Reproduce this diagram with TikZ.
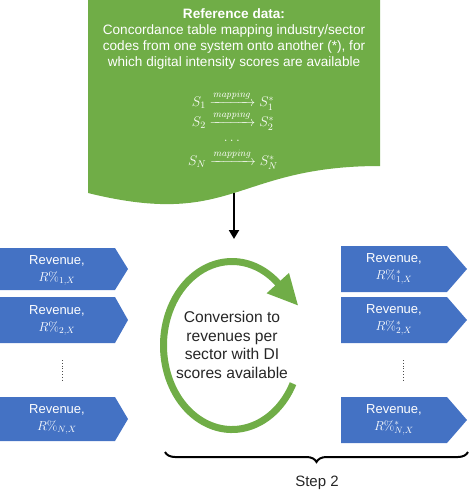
\RequirePackage{fix-cm}
\documentclass[tikz,border=0pt]{standalone}
\usepackage{amsmath}
\usepackage[no-math]{fontspec}
\setmainfont{Liberation Sans}
\usetikzlibrary{arrows.meta,decorations.pathreplacing}
\definecolor{docgreen}{HTML}{70AD47}
\definecolor{boxblue}{HTML}{4472C4}
\begin{document}
\begin{tikzpicture}[x=1pt,y=-1pt,
  doctext/.style={text=white,font=\fontsize{13.6}{16}\selectfont,align=center,inner sep=0pt},
  maptext/.style={text=white,font=\fontsize{14}{16}\selectfont,inner sep=0pt},
  revbox/.style={fill=boxblue},
  revtext/.style={text=white,font=\fontsize{13}{17}\selectfont,align=center,inner sep=0pt},
  dotline/.style={dotted,line width=0.8pt,black!70},
  flowarrow/.style={line width=2pt,-{Triangle[width=10pt,length=9pt]}},
  cycletext/.style={font=\fontsize{15.6}{18.7}\selectfont,align=center,inner sep=0pt,text=black!85},
  bracestyle/.style={decorate,decoration={brace,mirror,amplitude=10pt},line width=2pt}]
\useasboundingbox (0,0) rectangle (470,493);
% reference data document shape
\fill[docgreen] (88,0) -- (380,0) -- (380,166) .. controls (234,166) and (234,229) .. (88,193) -- cycle;
\coordinate (docbottom) at (234,193);
\node[doctext] (refdata) at (234,39) {\textbf{Reference data:}\\Concordance table mapping industry/sector\\codes from one system onto another (*), for\\which digital intensity scores are available};
\node[maptext] (map1) at (233,100) {$S_1\xrightarrow{\mathit{mapping}}S_1^*$};
\node[maptext] (map2) at (233,120) {$S_2\xrightarrow{\mathit{mapping}}S_2^*$};
\node[maptext] (mapdots) at (233,141) {$\dots$};
\node[maptext] (mapN) at (233,159) {$S_N\xrightarrow{\mathit{mapping}}S_N^*$};
% arrow down
\coordinate (arrtip) at (234,239);
\draw[flowarrow] (docbottom) -- (arrtip);
% left boxes
\fill[revbox] (0,248) -- (115,248) -- (128,269) -- (115,290) -- (0,290) -- cycle;
\node[revtext] (l1) at (57,270) {Revenue,\\$R\%_{1,X}$};
\fill[revbox] (0,297) -- (115,297) -- (128,320) -- (115,343) -- (0,343) -- cycle;
\node[revtext] (l2) at (57,320) {Revenue,\\$R\%_{2,X}$};
\coordinate (ldtop) at (62,360);
\coordinate (ldbot) at (62,381);
\draw[dotline] (ldtop) -- (ldbot);
\fill[revbox] (0,397) -- (115,397) -- (128,419) -- (115,441) -- (0,441) -- cycle;
\node[revtext] (lN) at (57,419) {Revenue,\\$R\%_{N,X}$};
% right boxes
\fill[revbox] (341,246) -- (447,246) -- (467,269) -- (447,292) -- (341,292) -- cycle;
\node[revtext] (r1) at (394,269) {Revenue,\\$R\%^*_{1,X}$};
\fill[revbox] (341,297) -- (447,297) -- (467,320) -- (447,343) -- (341,343) -- cycle;
\node[revtext] (r2) at (394,320) {Revenue,\\$R\%^*_{2,X}$};
\coordinate (rdtop) at (403,360);
\coordinate (rdbot) at (403,381);
\draw[dotline] (rdtop) -- (rdbot);
\fill[revbox] (341,397) -- (447,397) -- (467,420) -- (447,443) -- (341,443) -- cycle;
\node[revtext] (rN) at (394,420) {Revenue,\\$R\%^*_{N,X}$};
% circular arrow
\coordinate (cyc) at (232,345.5);
\draw[docgreen,line width=7pt] ([shift={(27:68.5 and 84)}]cyc) arc[start angle=27,end angle=313,x radius=68.5,y radius=84];
\fill[docgreen] (289.0,272.9) -- (297.9,305.3) -- (266.6,293.3) -- cycle;
\node[cycletext] (conv) at (232,345) {Conversion to\\revenues per\\sector with DI\\scores available};
% brace
\coordinate (brl) at (165,452);
\coordinate (brr) at (468,452);
\draw[bracestyle] (brl) -- (brr);
\node[font=\fontsize{15}{18}\selectfont,text=black!85,inner sep=0pt] (step2) at (317,483) {Step 2};
\end{tikzpicture}
\end{document}
